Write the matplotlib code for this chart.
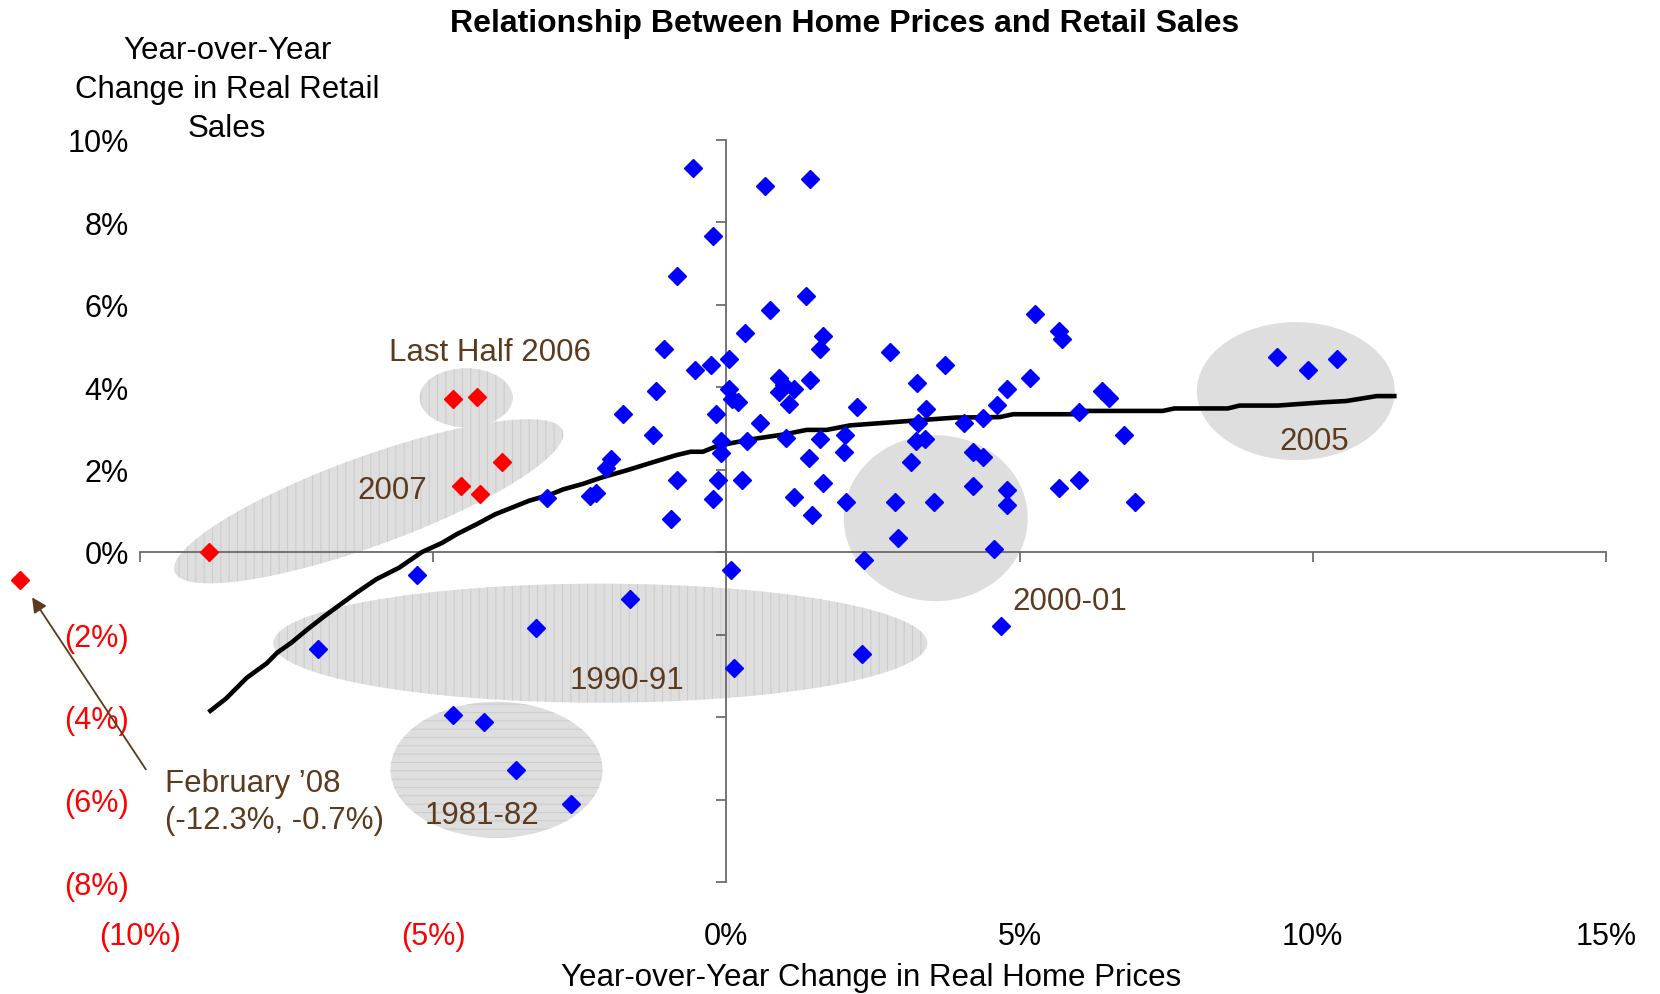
import matplotlib
matplotlib.use('Agg')
import matplotlib.pyplot as plt
import matplotlib.transforms as transforms
from matplotlib.patches import Ellipse

plt.rcParams['font.family'] = ['Liberation Sans', 'DejaVu Sans']
plt.rcParams['hatch.linewidth'] = 0.8

######## DATA (% change y/y)
blue_x = [-0.57, 0.66, 1.42, -0.23, -0.85, 1.36, 0.75, 0.31, 1.64, 1.59,
          -1.07, 0.05, -0.27, -0.54, 2.79, 3.72, 5.27, 5.17, 4.78, 4.62,
          4.37, 4.06, 3.25, 3.41, 3.27, 3.23, 3.38, 4.20, 4.37, 3.14,
          4.21, 4.78, 4.78, 3.54, 2.88, 2.92, 4.56, 2.35, 2.04, 1.46,
          1.64, 1.15, 1.41, 2.00, 1.60, 2.02, 2.22, 1.42, 0.89, 0.98,
          1.15, 0.89, 1.06, 1.01, 0.57, 0.05, 0.10, 0.19, -0.18, 0.35,
          -0.09, -0.09, -0.14, 0.26, -0.23, -0.85, -0.94, -1.25, -1.20, -1.77,
          -1.97, -2.06, -2.22, -2.32, 0.08, -3.06, 5.67, 5.72, 6.40, 6.52,
          6.01, 6.78, 5.67, 6.01, 6.96, 4.69, 9.39, 9.92, 10.41, -5.27,
          -6.96, -3.24, -1.64, 0.13, 2.31, -4.66, -4.13, -3.59, -2.65]
blue_y = [9.31, 8.87, 9.05, 7.66, 6.70, 6.20, 5.86, 5.32, 5.23, 4.91,
          4.91, 4.67, 4.54, 4.41, 4.86, 4.53, 5.76, 4.22, 3.96, 3.57,
          3.26, 3.13, 4.09, 3.47, 3.13, 2.70, 2.75, 2.42, 2.30, 2.18,
          1.60, 1.51, 1.13, 1.22, 1.22, 0.33, 0.07, -0.19, 1.22, 0.89,
          1.68, 1.34, 2.29, 2.42, 2.75, 2.83, 3.52, 4.16, 4.22, 4.06,
          3.96, 3.88, 3.58, 2.77, 3.13, 3.96, 3.72, 3.63, 3.34, 2.69,
          2.69, 2.41, 1.74, 1.74, 1.29, 1.74, 0.79, 2.83, 3.90, 3.34,
          2.25, 2.04, 1.42, 1.35, -0.44, 1.30, 5.36, 5.16, 3.90, 3.74,
          3.39, 2.83, 1.54, 1.74, 1.22, -1.80, 4.73, 4.41, 4.67, -0.56,
          -2.34, -1.84, -1.13, -2.80, -2.48, -3.94, -4.13, -5.28, -6.11]

# 2006-2008 observations
red_x = [-4.66, -4.25, -3.82, -4.53, -4.21, -8.83, -12.05]
red_y = [3.72, 3.76, 2.18, 1.60, 1.41, 0.0, -0.67]

# moving trend line
trend_x = [-8.80, -8.53, -8.18, -7.84, -7.66, -7.42, -7.14, -6.85, -6.62, -6.30,
           -5.97, -5.58, -5.19, -4.85, -4.60, -4.25, -3.95, -3.65, -3.37, -2.99,
           -2.78, -2.45, -2.14, -1.70, -1.29, -0.85, -0.61, -0.40, -0.16, 0.41,
           0.98, 1.37, 1.71, 2.11, 2.68, 3.24, 3.92, 4.66, 4.89, 5.95,
           6.14, 7.44, 7.64, 8.55, 8.75, 9.40, 10.18, 10.57, 11.09, 11.39]
trend_y = [-3.85, -3.55, -3.05, -2.70, -2.44, -2.20, -1.87, -1.55, -1.31, -0.98,
           -0.66, -0.38, 0.00, 0.22, 0.43, 0.68, 0.91, 1.08, 1.24, 1.40,
           1.52, 1.65, 1.80, 1.98, 2.16, 2.35, 2.43, 2.43, 2.57, 2.73,
           2.85, 2.96, 2.96, 3.07, 3.13, 3.19, 3.26, 3.27, 3.34, 3.34,
           3.42, 3.42, 3.48, 3.48, 3.55, 3.55, 3.63, 3.66, 3.78, 3.78]

x_ticks = [-10, -5, 0, 5, 10, 15]
y_ticks = [-8, -6, -4, -2, 0, 2, 4, 6, 8, 10]
#####################

BROWN = '#5c3a1e'

def pct_label(v):
    if v < 0:
        return '(%d%%)' % abs(v)
    return '%d%%' % v

fig = plt.figure(figsize=(16.6, 9.95), dpi=100)
pos = [140 / 1660, 1 - 883 / 995, (1606 - 140) / 1660, (883 - 140.5) / 995]

# axes that only carries the tick labels (placed at the outer edge)
lab = fig.add_axes(pos)
lab.set_xlim(-10, 15)
lab.set_ylim(-8, 10)
lab.patch.set_visible(False)
for s in lab.spines.values():
    s.set_visible(False)
lab.set_xticks(x_ticks)
lab.set_yticks(y_ticks)
lab.set_xticklabels([pct_label(v) for v in x_ticks])
lab.set_yticklabels([pct_label(v) for v in y_ticks])
lab.tick_params(axis='x', length=0, pad=28, labelsize=22)
lab.tick_params(axis='y', length=0, pad=8, labelsize=22)
for t, v in zip(lab.get_xticklabels(), x_ticks):
    t.set_color('red' if v < 0 else 'black')
for t, v in zip(lab.get_yticklabels(), y_ticks):
    t.set_color('red' if v < 0 else 'black')
lab.set_zorder(0)

# main plotting axes, axis lines cross at zero
ax = fig.add_axes(pos)
ax.set_zorder(1)
ax.patch.set_visible(False)
ax.set_xlim(-10, 15)
ax.set_ylim(-8, 10)
ax.spines['top'].set_visible(False)
ax.spines['right'].set_visible(False)
ax.spines['left'].set_position(('data', 0))
ax.spines['bottom'].set_position(('data', 0))
ax.spines['left'].set_bounds(-8, 10)
ax.spines['bottom'].set_bounds(-10, 15)
for s in ['left', 'bottom']:
    ax.spines[s].set_color('#6a6a6a')
    ax.spines[s].set_linewidth(1.3)
ax.set_xticks(x_ticks)
ax.set_yticks(y_ticks)
ax.tick_params(direction='out', length=7, width=1.1, color='#555555',
               labelbottom=False, labelleft=False)

# shaded period ellipses (sizes in pixels, angle in screen degrees)
ellipses = [
    dict(cx=-4.44, cy=3.74, w=93, h=59, ang=0, hatch='||'),
    dict(cx=-6.10, cy=1.23, w=413, h=89, ang=20, hatch='||'),
    dict(cx=-2.15, cy=-2.21, w=654, h=119, ang=0, hatch='||'),
    dict(cx=-3.92, cy=-5.28, w=212, h=136, ang=0, hatch='--'),
    dict(cx=3.57, cy=0.82, w=184, h=166, ang=0, hatch=None),
    dict(cx=9.71, cy=3.90, w=198, h=138, ang=0, hatch=None),
]
for e in ellipses:
    trans = fig.dpi_scale_trans + transforms.ScaledTranslation(e['cx'], e['cy'], ax.transData)
    patch = Ellipse((0, 0), e['w'] / 100, e['h'] / 100, angle=e['ang'],
                    transform=trans, facecolor='#dedede', edgecolor='#cdcdcd',
                    linewidth=0, hatch=e['hatch'], zorder=1)
    ax.add_patch(patch)

ax.plot(trend_x, trend_y, color='black', linewidth=3.3, zorder=2.6)
ax.plot(blue_x, blue_y, linestyle='none', marker='D', markersize=9,
        color='#0000ff', zorder=3)
ax.plot(red_x, red_y, linestyle='none', marker='D', markersize=9,
        color='#ff0000', zorder=3, clip_on=False)

# period labels
labels = [('Last Half 2006', -4.04, 4.85), ('2007', -5.69, 1.51),
          ('1990-91', -1.70, -3.10), ('1981-82', -4.17, -6.38),
          ('2000-01', 5.85, -1.18), ('2005', 10.02, 2.69)]
for txt, lx, ly in labels:
    ax.text(lx, ly, txt, color=BROWN, fontsize=22.5, ha='center', va='center', zorder=4)

# February '08 call-out
ax.text(-9.57, -6.05, 'February \u201908\n(-12.3%, -0.7%)', color=BROWN, fontsize=22.5,
        ha='left', va='center', linespacing=1.3, zorder=4)
ax.annotate('', xy=(-11.84, -1.10), xytext=(-9.90, -5.27), annotation_clip=False,
            arrowprops=dict(arrowstyle='-|>', color=BROWN, lw=1.3, mutation_scale=22,
                            shrinkA=0, shrinkB=0))

fig.text(845 / 1660, 1 - 24 / 995, 'Relationship Between Home Prices and Retail Sales',
         fontsize=23, fontweight='bold', ha='center', va='center')
for i, line in enumerate(['Year-over-Year', 'Change in Real Retail', 'Sales']):
    fig.text(227 / 1660, 1 - (51 + 39 * i) / 995, line,
             fontsize=22.5, ha='center', va='center')
fig.text(871 / 1660, 1 - 978 / 995, 'Year-over-Year Change in Real Home Prices',
         fontsize=22.5, ha='center', va='center')

fig.savefig('out.png', dpi=100)
